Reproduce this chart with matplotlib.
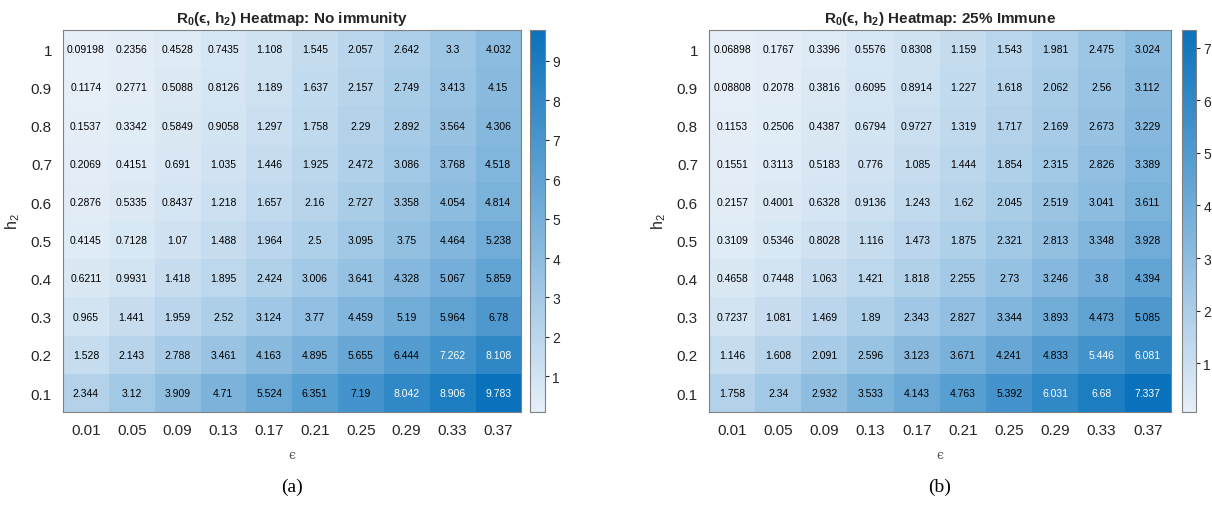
import numpy as np
import matplotlib
matplotlib.use("Agg")
from matplotlib import pyplot as plt
from matplotlib.colors import LinearSegmentedColormap, Normalize

plt.rcParams["font.family"] = ["Liberation Sans", "DejaVu Sans"]
plt.rcParams["mathtext.fontset"] = "custom"
plt.rcParams["mathtext.rm"] = "Liberation Sans"
plt.rcParams["mathtext.bf"] = "Liberation Sans:bold"

eps = ["0.01", "0.05", "0.09", "0.13", "0.17", "0.21", "0.25", "0.29", "0.33", "0.37"]
h2 = ["1", "0.9", "0.8", "0.7", "0.6", "0.5", "0.4", "0.3", "0.2", "0.1"]

# rows: h2 = 1 (top) ... 0.1 (bottom)
r0_none = [
    [0.09198, 0.2356, 0.4528, 0.7435, 1.108, 1.545, 2.057, 2.642, 3.3, 4.032],
    [0.1174, 0.2771, 0.5088, 0.8126, 1.189, 1.637, 2.157, 2.749, 3.413, 4.15],
    [0.1537, 0.3342, 0.5849, 0.9058, 1.297, 1.758, 2.29, 2.892, 3.564, 4.306],
    [0.2069, 0.4151, 0.691, 1.035, 1.446, 1.925, 2.472, 3.086, 3.768, 4.518],
    [0.2876, 0.5335, 0.8437, 1.218, 1.657, 2.16, 2.727, 3.358, 4.054, 4.814],
    [0.4145, 0.7128, 1.07, 1.488, 1.964, 2.5, 3.095, 3.75, 4.464, 5.238],
    [0.6211, 0.9931, 1.418, 1.895, 2.424, 3.006, 3.641, 4.328, 5.067, 5.859],
    [0.965, 1.441, 1.959, 2.52, 3.124, 3.77, 4.459, 5.19, 5.964, 6.78],
    [1.528, 2.143, 2.788, 3.461, 4.163, 4.895, 5.655, 6.444, 7.262, 8.108],
    [2.344, 3.12, 3.909, 4.71, 5.524, 6.351, 7.19, 8.042, 8.906, 9.783],
]
r0_immune = [
    [0.06898, 0.1767, 0.3396, 0.5576, 0.8308, 1.159, 1.543, 1.981, 2.475, 3.024],
    [0.08808, 0.2078, 0.3816, 0.6095, 0.8914, 1.227, 1.618, 2.062, 2.56, 3.112],
    [0.1153, 0.2506, 0.4387, 0.6794, 0.9727, 1.319, 1.717, 2.169, 2.673, 3.229],
    [0.1551, 0.3113, 0.5183, 0.776, 1.085, 1.444, 1.854, 2.315, 2.826, 3.389],
    [0.2157, 0.4001, 0.6328, 0.9136, 1.243, 1.62, 2.045, 2.519, 3.041, 3.611],
    [0.3109, 0.5346, 0.8028, 1.116, 1.473, 1.875, 2.321, 2.813, 3.348, 3.928],
    [0.4658, 0.7448, 1.063, 1.421, 1.818, 2.255, 2.73, 3.246, 3.8, 4.394],
    [0.7237, 1.081, 1.469, 1.89, 2.343, 2.827, 3.344, 3.893, 4.473, 5.085],
    [1.146, 1.608, 2.091, 2.596, 3.123, 3.671, 4.241, 4.833, 5.446, 6.081],
    [1.758, 2.34, 2.932, 3.533, 4.143, 4.763, 5.392, 6.031, 6.68, 7.337],
]

titles = ["R$_\\mathbf{0}$(\u03f5, h$_\\mathbf{2}$) Heatmap: No immunity",
          "R$_\\mathbf{0}$(\u03f5, h$_\\mathbf{2}$) Heatmap: 25% Immune"]
captions = ["(a)", "(b)"]

cmap = LinearSegmentedColormap.from_list("sky", ["#e6eff8", "#0a72bc"])
grey = "#262626"

fig = plt.figure(figsize=(12.12, 5.1), dpi=100)
ax_pos = [[0.052, 0.19, 0.378, 0.749], [0.585, 0.19, 0.381, 0.749]]
cb_pos = [[0.437, 0.19, 0.013, 0.749], [0.975, 0.19, 0.012, 0.749]]

for k, data in enumerate([r0_none, r0_immune]):
    z = np.array(data)
    ax = fig.add_axes(ax_pos[k])
    norm = Normalize(vmin=z.min(), vmax=z.max())
    im = ax.imshow(z, cmap=cmap, norm=norm, aspect="auto", interpolation="nearest")
    for i in range(z.shape[0]):
        for j in range(z.shape[1]):
            v = z[i, j]
            col = "white" if norm(v) > 0.735 else "black"
            ax.text(j, i, "%.4g" % v, ha="center", va="center", fontsize=7.5, color=col)
    ax.set_xticks(range(len(eps)))
    ax.set_xticklabels(eps)
    ax.set_yticks(range(len(h2)))
    ax.set_yticklabels(h2)
    ax.tick_params(length=0, labelsize=11, labelcolor=grey, pad=8)
    for s in ax.spines.values():
        s.set_color("#808080")
        s.set_linewidth(0.8)
    ax.set_xlabel("\u03f5", fontsize=9, color="#555555", labelpad=8,
                  family=["DejaVu Serif", "DejaVu Sans"])
    ax.set_ylabel("h$_2$", fontsize=11.5, color=grey, labelpad=6)
    ax.set_title(titles[k], fontsize=11, fontweight="bold", color=grey, pad=6)

    cax = fig.add_axes(cb_pos[k])
    cb = fig.colorbar(im, cax=cax)
    cb.set_ticks(range(1, int(z.max()) + 1))
    cb.ax.tick_params(labelsize=10, colors=grey, length=3, direction="out", pad=2)
    cb.outline.set_edgecolor("#808080")
    cb.outline.set_linewidth(0.8)

    cx = ax_pos[k][0] + ax_pos[k][2] / 2
    fig.text(cx, 0.035, captions[k], ha="center", fontsize=14,
             family="Liberation Serif", color="black")

fig.savefig("out.png", dpi=100)
